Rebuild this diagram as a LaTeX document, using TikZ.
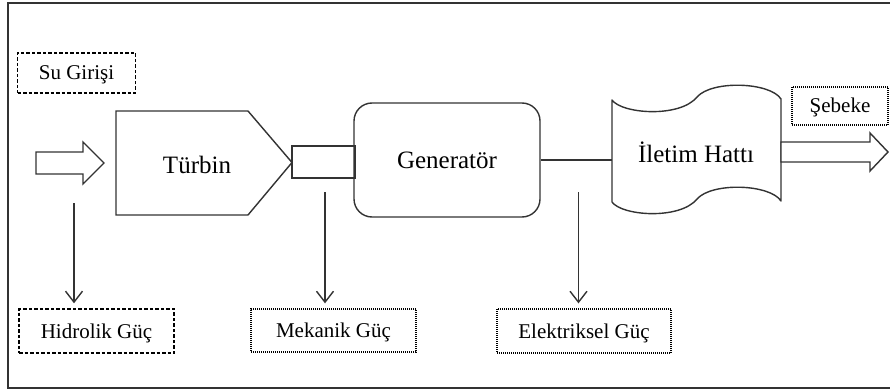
\documentclass[tikz,border=0pt]{standalone}
\usepackage{fontspec}
\setmainfont{Liberation Serif}
\usetikzlibrary{arrows.meta}
\begin{document}
\begin{tikzpicture}[x=1pt,y=-1pt,
  ln/.style={draw=black!80, line width=1.4pt},
  big/.style={font=\fontsize{25}{28}\selectfont, text height=17pt, text depth=0pt, inner sep=0pt},
  lbl/.style={font=\fontsize{21}{24}\selectfont, text height=14pt, text depth=0pt, inner sep=0pt, draw=black},
  dashbox/.style={lbl, line width=1.4pt, dash pattern=on 3.5pt off 2pt},
  dotbox/.style={lbl, line width=1.3pt, dash pattern=on 1pt off 1pt},
  down/.style={ln, -{Straight Barb[length=11pt,width=17pt,line width=1.4pt]}, shorten >=5pt},
  fat/.style={ln, fill=white, line join=miter}
]
\useasboundingbox (0,0) rectangle (890,390);
\draw[draw=black!80, line width=1.8pt] (890,3) -- (8,3) -- (8,388) -- (890,388);

% Su Girisi label and input arrow
\node[dashbox, minimum width=118pt, minimum height=40pt] (su) at (76.5,73) {Su Girişi};
\draw[fat] (36,152) -- (83,152) -- (83,142) -- (104,163) -- (83,184) -- (83,174) -- (36,174) -- cycle;

% Turbine
\draw[fat] (116,111) -- (248,111) -- (292,162.5) -- (248,215) -- (116,215) -- cycle;
\node[big, anchor=base] (turbin) at (197,173) {Türbin};

% Shaft
\node[ln, minimum width=63pt, minimum height=32pt, inner sep=0pt] (shaft) at (323.5,162) {};

% Generator
\node[ln, big, rounded corners=18pt, minimum width=186pt, minimum height=114pt] (gen) at (447,160) {Generatör};

% Transmission line (tape shape)
\node[minimum width=169pt, minimum height=102pt, inner sep=0pt] (il) at (696.5,151) {};
\draw[ln, line join=round] (612,100) .. controls (622,114) and (680,118) .. (697,97)
   .. controls (712,80) and (770,82) .. (781,99) -- (781,201)
   .. controls (770,184) and (712,182) .. (697,199)
   .. controls (680,220) and (622,216) .. (612,202) -- cycle;
\node[big, anchor=base] (iltxt) at (696,162) {İletim Hattı};

\draw[ln] (gen.east) -- (gen.east -| il.west);

% Output arrow and Sebeke
\draw[fat] (781,142) -- (870,142) -- (870,133) -- (888,152) -- (870,171) -- (870,162) -- (781,162) -- cycle;
\node[dotbox, minimum width=96pt, minimum height=38pt] (seb) at (840,106) {Şebeke};

% Bottom labels
\node[dashbox, minimum width=155pt, minimum height=44pt] (hid) at (96.5,331) {Hidrolik Güç};
\node[dotbox, minimum width=165pt, minimum height=43pt] (mek) at (333.5,330.5) {Mekanik Güç};
\node[dotbox, minimum width=174pt, minimum height=44pt] (ele) at (584,331) {Elektriksel Güç};

\coordinate (h0) at (74,203);
\coordinate (m0) at (325,192);
\coordinate (e0) at (578.5,192);
\draw[down] (h0) -- (h0 |- hid.north);
\draw[down] (m0) -- (m0 |- mek.north);
\draw[down] (e0) -- (e0 |- ele.north);
\end{tikzpicture}
\end{document}
